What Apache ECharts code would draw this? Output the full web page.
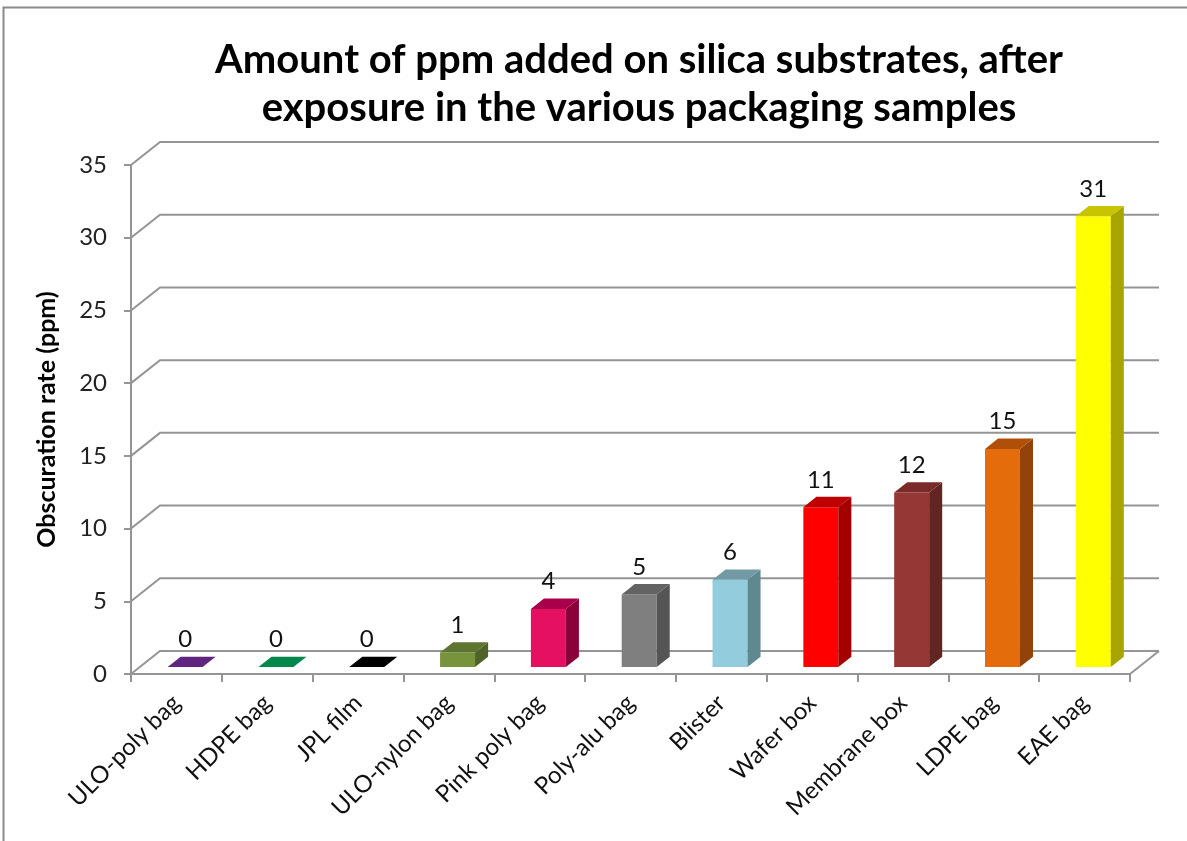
<!DOCTYPE html>
<html>
<head>
<meta charset="utf-8">
<script src="https://cdn.jsdelivr.net/npm/echarts@6/dist/echarts.min.js"></script>
<style>
  html, body { margin: 0; padding: 0; background: #fff; }
  #chart { width: 1187px; height: 841px; }
</style>
</head>
<body>
<div id="chart"></div>
<script>
// Packaging samples and the ppm measured on silica after exposure
const categories = ['ULO-poly bag', 'HDPE bag', 'JPL film', 'ULO-nylon bag', 'Pink poly bag',
  'Poly-alu bag', 'Blister', 'Wafer box', 'Membrane box', 'LDPE bag', 'EAE bag'];
const values = [0, 0, 0, 1, 4, 5, 6, 11, 12, 15, 31];
const yTicks = [0, 5, 10, 15, 20, 25, 30, 35];

// Front, side and top shades of each column
const frontColors = ['#60267f', '#00874b', '#000000', '#77933c', '#e5105f', '#7f7f7f',
  '#93cddd', '#ff0000', '#953735', '#e46c0a', '#ffff00'];
const sideColors = ['#60267f', '#00874b', '#000000', '#4f6228', '#8b0038', '#555555',
  '#5f8891', '#a50000', '#632523', '#934209', '#a8a400'];
const topColors = ['#60267f', '#00874b', '#000000', '#5e7530', '#a8004a', '#636363',
  '#7299a4', '#c00000', '#7a2a28', '#b05008', '#c8c400'];

// Oblique depth of the 3D box (pixels) and column placement inside it
const DX = 29, DY = -23;
const BAR_FRONT = 0.3, BAR_DEPTH = 0.45, BAR_WIDTH = 0.385;
const GRID_COLOR = '#959595';
const FONT = 'Lato, "Open Sans", sans-serif';

const chart = echarts.init(document.getElementById('chart'));

function wallRender(params, api) {
  const cs = params.coordSys;
  const y = api.coord([0, api.value(1)])[1];
  const x0 = cs.x, x1 = cs.x + cs.width;
  const children = [{
    type: 'polyline',
    shape: { points: [[x0, y], [x0 + DX, y + DY], [x1 + DX, y + DY]] },
    style: { stroke: GRID_COLOR, lineWidth: 2, fill: null }
  }];
  if (api.value(1) === 0) {
    children.push({
      type: 'line',
      shape: { x1: x1, y1: y, x2: x1 + DX, y2: y + DY },
      style: { stroke: GRID_COLOR, lineWidth: 2 }
    });
  }
  return { type: 'group', children: children };
}

function barRender(params, api) {
  const i = api.value(0), v = api.value(1);
  const base = api.coord([i, 0]);
  const top = api.coord([i, v]);
  const w = api.size([1, 0])[0] * BAR_WIDTH;
  const ox = DX * BAR_FRONT, oy = DY * BAR_FRONT;
  const ddx = DX * BAR_DEPTH, ddy = DY * BAR_DEPTH;
  const xl = base[0] - w / 2 + ox, xr = base[0] + w / 2 + ox;
  const yb = base[1] + oy, yt = top[1] + oy;
  const idx = params.dataIndex;
  const children = [];
  if (v > 0) {
    children.push({
      type: 'rect', shape: { x: xl, y: yt, width: xr - xl, height: yb - yt },
      style: { fill: frontColors[idx] }
    });
    children.push({
      type: 'polygon',
      shape: { points: [[xr, yt], [xr + ddx, yt + ddy], [xr + ddx, yb + ddy], [xr, yb]] },
      style: { fill: sideColors[idx] }
    });
  }
  children.push({
    type: 'polygon',
    shape: { points: [[xl, yt], [xl + ddx, yt + ddy], [xr + ddx, yt + ddy], [xr, yt]] },
    style: { fill: v > 0 ? topColors[idx] : frontColors[idx] }
  });
  children.push({
    type: 'text',
    style: {
      text: String(v), x: (xl + xr) / 2, y: yt + ddy - 5,
      align: 'center', verticalAlign: 'bottom',
      font: '24px ' + FONT, fill: '#111'
    }
  });
  return { type: 'group', children: children };
}

chart.setOption({
  backgroundColor: '#fff',
  animation: false,
  title: {
    text: 'Amount of ppm added on silica substrates, after\nexposure in the various packaging samples',
    left: 634, top: 31, textAlign: 'center',
    textStyle: { fontFamily: FONT, fontWeight: 'bold', fontSize: 40, lineHeight: 48, color: '#000' }
  },
  graphic: [{
    type: 'rect', shape: { x: 3.5, y: 7.5, width: 1300, height: 1000 },
    style: { fill: null, stroke: '#8a8a8a', lineWidth: 2 }, silent: true, z: 100
  }],
  grid: { left: 131, right: 57, top: 165, bottom: 167 },
  xAxis: {
    type: 'category', data: categories,
    axisLine: { lineStyle: { color: GRID_COLOR, width: 2 } },
    axisTick: { show: true, length: 8, lineStyle: { color: GRID_COLOR, width: 2 } },
    axisLabel: { rotate: 45, margin: 25, fontSize: 24, fontFamily: FONT, color: '#111', interval: 0 },
    splitLine: { show: false }
  },
  yAxis: {
    type: 'value', min: 0, max: 35, interval: 5,
    name: 'Obscuration rate (ppm)', nameLocation: 'middle', nameGap: 72, nameRotate: 90,
    nameTextStyle: { fontFamily: FONT, fontWeight: 'bold', fontSize: 25, color: '#000' },
    axisLine: { show: true, lineStyle: { color: GRID_COLOR, width: 2 } },
    axisTick: { show: true, length: 7, lineStyle: { color: GRID_COLOR, width: 2 } },
    axisLabel: { fontSize: 24, fontFamily: FONT, color: '#222', margin: 24 },
    splitLine: { show: false }
  },
  series: [{
    type: 'custom', renderItem: wallRender, z: 1, silent: true,
    data: yTicks.map(t => [0, t])
  }, {
    type: 'custom', renderItem: barRender, z: 2,
    data: values.map((v, i) => [i, v])
  }]
});
</script>
</body>
</html>
